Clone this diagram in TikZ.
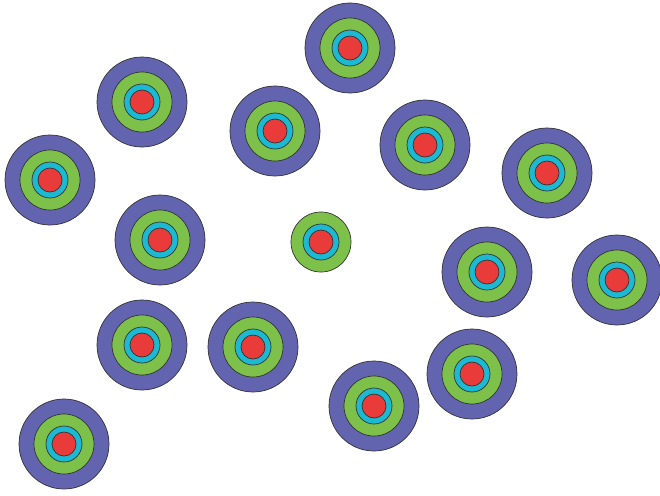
\documentclass[tikz,border=0pt]{standalone}
\definecolor{ringblue}{HTML}{6264B0}
\definecolor{ringgreen}{HTML}{7DC04A}
\definecolor{ringcyan}{HTML}{1CB9D2}
\definecolor{ringred}{HTML}{EA3B3B}
\tikzset{
  ring/.style={draw=black!80, line width=0.7pt},
  pics/target/.style={code={
    \filldraw[ring, fill=ringblue] (0,0) circle (45);
    \filldraw[ring, fill=ringgreen] (0,0) circle (30);
    \filldraw[ring, fill=ringcyan] (0,0) circle (18);
    \filldraw[ring, fill=ringred] (0,0) circle (12);
  }},
  pics/smalltarget/.style={code={
    \filldraw[ring, fill=ringgreen] (0,0) circle (30);
    \filldraw[ring, fill=ringcyan] (0,0) circle (18);
    \filldraw[ring, fill=ringred] (0,0) circle (12);
  }}
}
\begin{document}
\begin{tikzpicture}[x=1pt,y=-1pt]
\useasboundingbox (0,0) rectangle (660,495);
\foreach \cx/\cy in {350/48, 142/102, 275/131, 425/145, 50/180, 547/173,
  160/240, 487/272, 617/280, 142/345, 253/347, 472/374, 374/406, 64/444}
  \pic at (\cx,\cy) {target};
\pic at (321,242) {smalltarget};
\end{tikzpicture}
\end{document}
